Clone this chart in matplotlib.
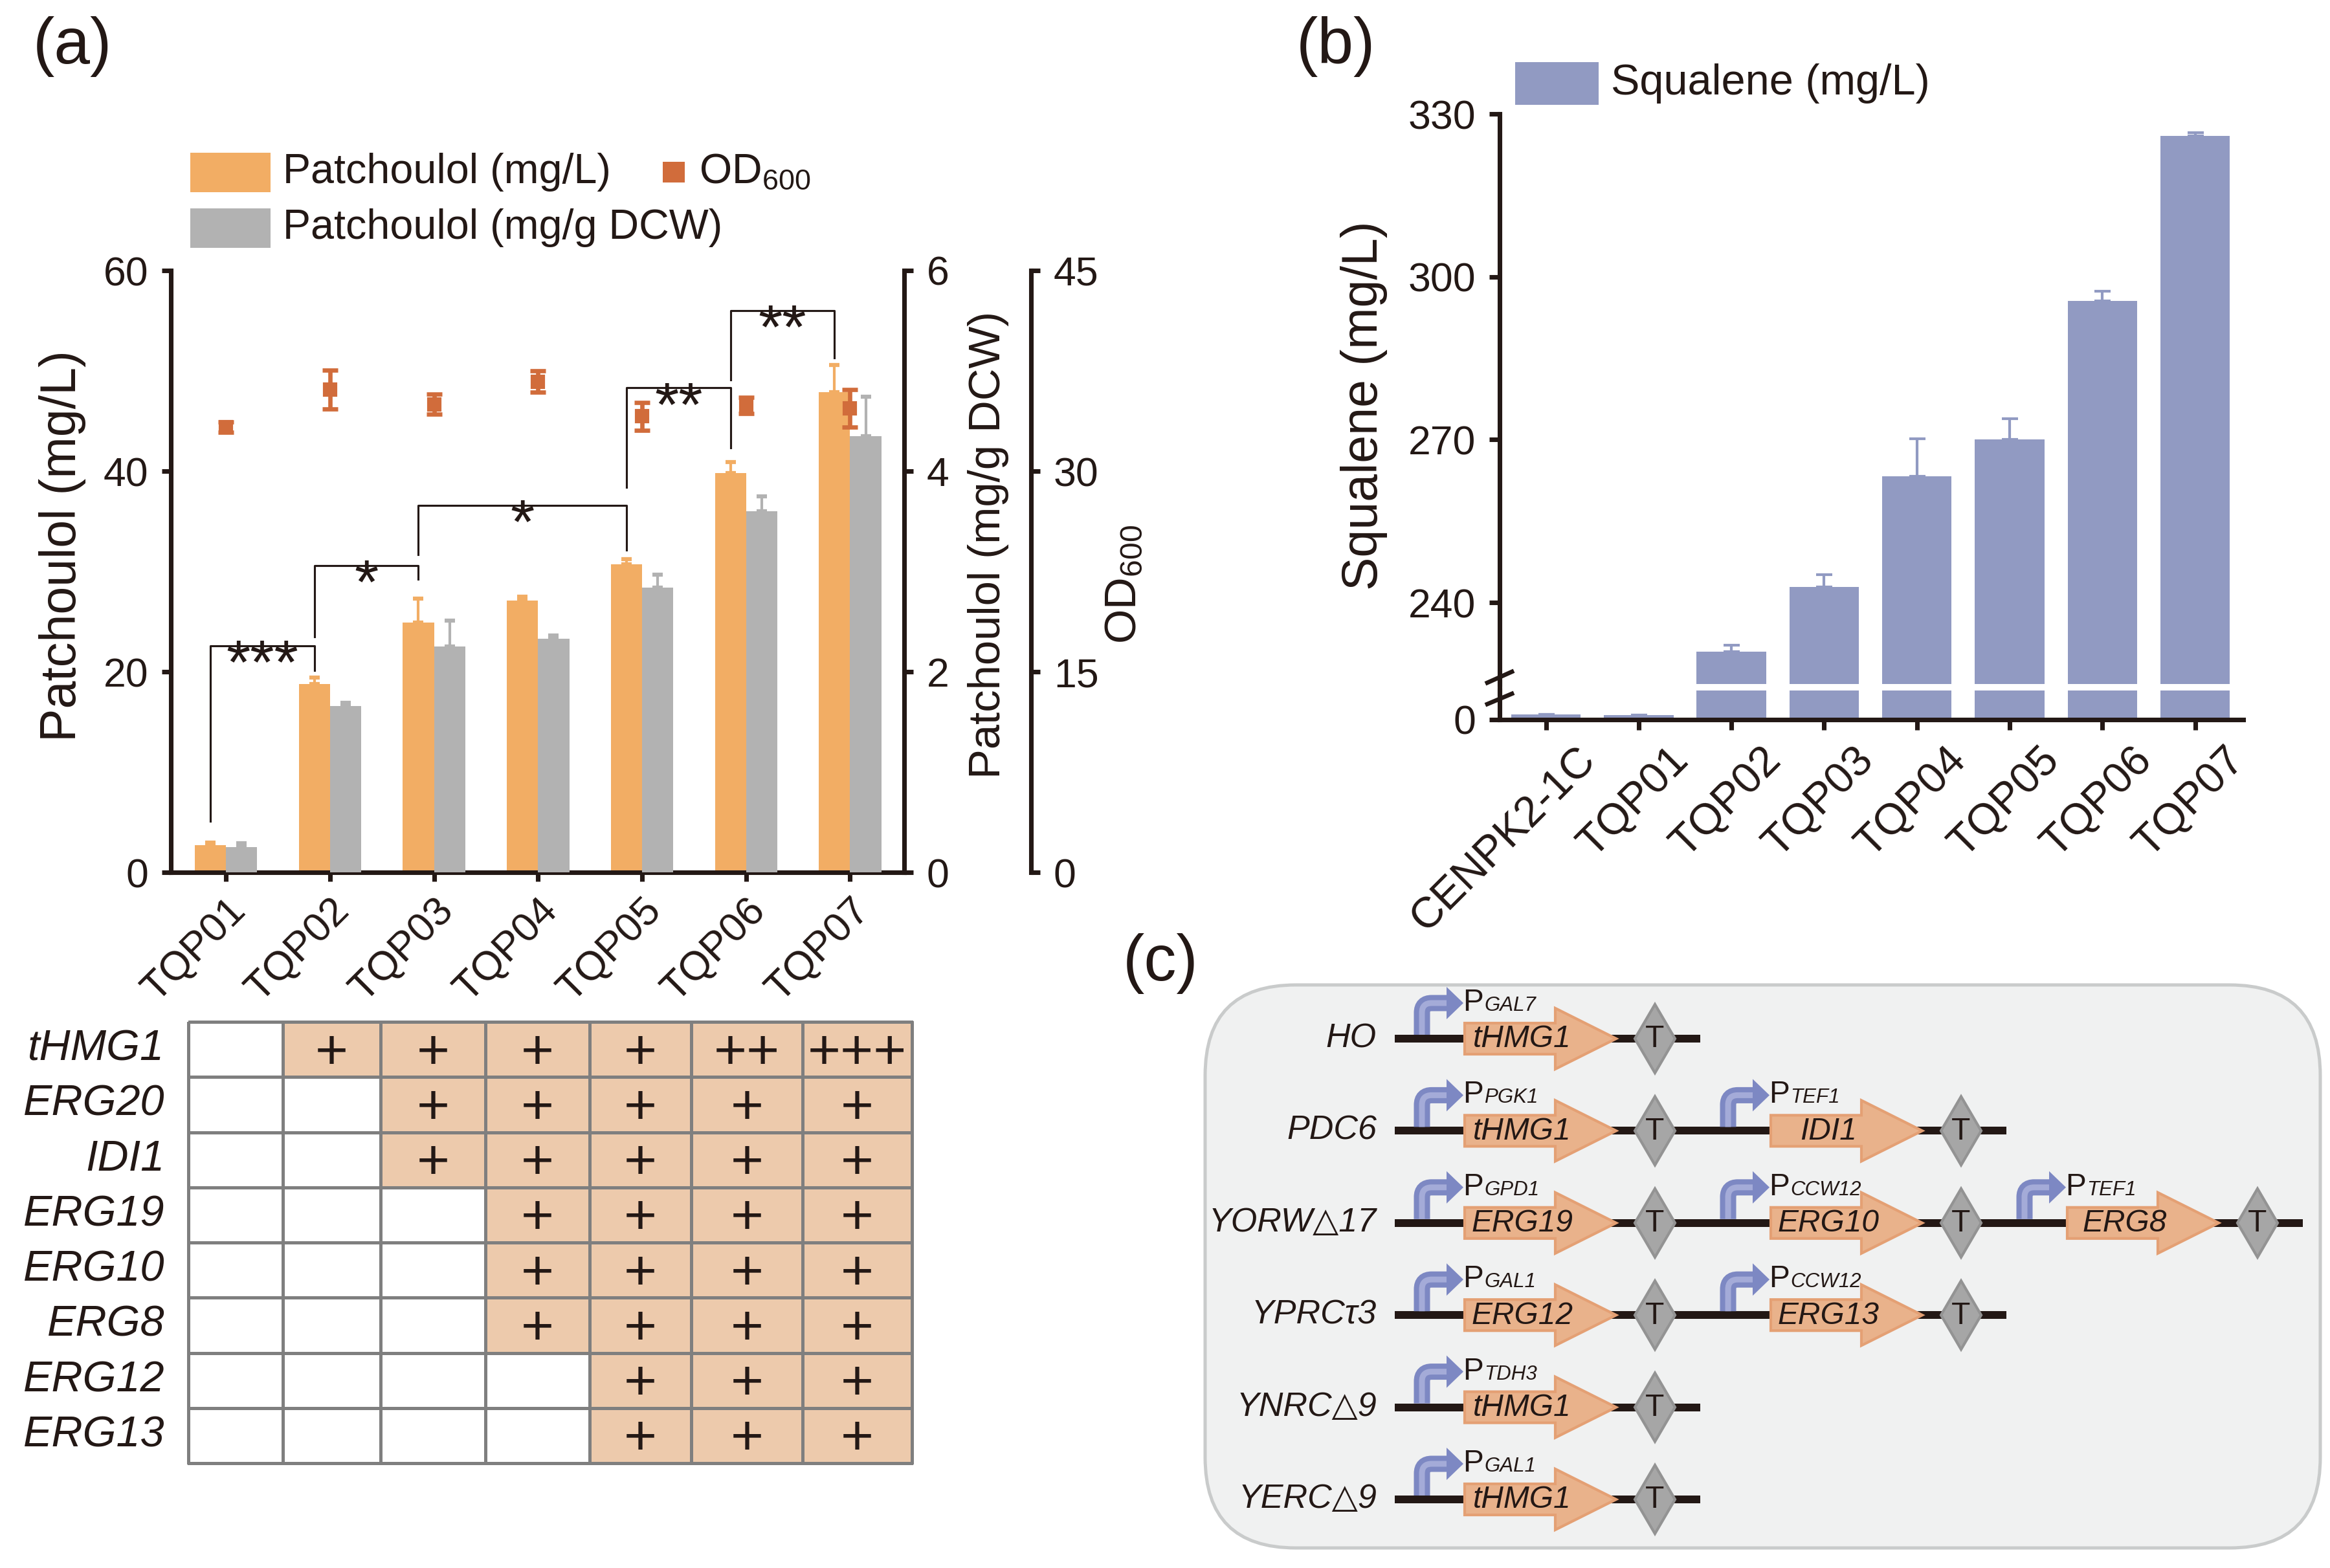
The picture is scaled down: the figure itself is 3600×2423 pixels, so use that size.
import numpy as np
import matplotlib
matplotlib.use('Agg')
import matplotlib.pyplot as plt
from matplotlib.patches import Rectangle, Polygon, FancyBboxPatch, PathPatch
from matplotlib.path import Path
from matplotlib.colors import ListedColormap
from matplotlib.transforms import ScaledTranslation

# ---------------- data, panel (a) ----------------
strains = ['TQP01', 'TQP02', 'TQP03', 'TQP04', 'TQP05', 'TQP06', 'TQP07']
patchoulol_mgL = [2.7, 18.8, 24.9, 27.1, 30.7, 39.8, 47.9]
patchoulol_mgL_err = [0.3, 0.6, 2.4, 0.4, 0.5, 1.1, 2.7]
patchoulol_mgDCW = [0.25, 1.66, 2.25, 2.33, 2.84, 3.60, 4.35]
patchoulol_mgDCW_err = [0.04, 0.03, 0.26, 0.03, 0.13, 0.15, 0.39]
od600 = [33.3, 36.1, 35.0, 36.7, 34.1, 34.9, 34.7]
od600_err = [0.4, 1.45, 0.75, 0.8, 1.05, 0.6, 1.4]

# significance brackets (heights on the mg/L axis)
sig_pairs = [(0, 1), (1, 2), (2, 4), (4, 5), (5, 6)]
sig_labels = ['***', '*', '*', '**', '**']
sig_top = [22.6, 30.6, 36.6, 48.3, 56.0]
sig_left_end = [5.1, 23.5, 31.7, 38.4, 49.1]
sig_right_end = [20.1, 29.2, 32.1, 42.3, 51.3]

# gene copies per strain (table under a)
genes = ['tHMG1', 'ERG20', 'IDI1', 'ERG19', 'ERG10', 'ERG8', 'ERG12', 'ERG13']
copies = [[0, 1, 1, 1, 1, 2, 3],
          [0, 0, 1, 1, 1, 1, 1],
          [0, 0, 1, 1, 1, 1, 1],
          [0, 0, 0, 1, 1, 1, 1],
          [0, 0, 0, 1, 1, 1, 1],
          [0, 0, 0, 1, 1, 1, 1],
          [0, 0, 0, 0, 1, 1, 1],
          [0, 0, 0, 0, 1, 1, 1]]

# ---------------- data, panel (b) ----------------
sq_strains = ['CENPK2-1C'] + strains
squalene = [3.6, 3.0, 230.9, 242.9, 263.3, 270.1, 295.5, 326.0]
squalene_err = [0, 0, 1.3, 2.2, 6.9, 3.8, 1.9, 0.5]

# ---------------- data, panel (c) ----------------
sites = ['HO', 'PDC6', 'YORW△17', 'YPRCτ3', 'YNRC△9', 'YERC△9']
promoters = [['GAL7'], ['PGK1', 'TEF1'], ['GPD1', 'CCW12', 'TEF1'],
             ['GAL1', 'CCW12'], ['TDH3'], ['GAL1']]
cassette_genes = [['tHMG1'], ['tHMG1', 'IDI1'], ['ERG19', 'ERG10', 'ERG8'],
                  ['ERG12', 'ERG13'], ['tHMG1'], ['tHMG1']]

# ---------------- style ----------------
plt.rcParams['font.family'] = ['Liberation Sans', 'DejaVu Sans']
plt.rcParams['mathtext.fontset'] = 'custom'
plt.rcParams['mathtext.rm'] = 'Liberation Sans'
plt.rcParams['mathtext.it'] = 'Liberation Sans:italic'
INK = '#231815'
plt.rcParams['text.color'] = INK
plt.rcParams['axes.edgecolor'] = INK
plt.rcParams['xtick.color'] = INK
plt.rcParams['ytick.color'] = INK

ORANGE = '#F2AD64'
GRAY = '#B2B2B2'
OD_C = '#D16C3B'
PURPLE = '#919AC2'
PEACH = '#EDCAAC'

W, H, DPI = 3600, 2423, 300
PX = 72 / DPI  # one pixel in points
SPINE = 1.7

fig = plt.figure(figsize=(W / DPI, H / DPI), dpi=DPI)


def box(x0, y0, x1, y1):
    return [x0 / W, 1 - y1 / H, (x1 - x0) / W, (y1 - y0) / H]


def shift_xlabels(a, dx_px):
    for lab in a.get_xticklabels():
        lab.set_transform(lab.get_transform() + ScaledTranslation(dx_px / DPI, 0, fig.dpi_scale_trans))


# ================= panel (a) =================
x = np.arange(len(strains))
bw = 0.3
ax = fig.add_axes(box(264, 418, 1397, 1348))
ax.bar(x - 0.15, patchoulol_mgL, bw, color=ORANGE, zorder=2,
       yerr=[np.zeros(len(x)), patchoulol_mgL_err],
       error_kw=dict(ecolor=ORANGE, elinewidth=1.0, capsize=2, capthick=1.5))
ax.set_xlim(-0.53, 6.52)
ax.set_ylim(0, 60)
ax.set_yticks([0, 20, 40, 60])
ax.set_xticks(x)
ax.set_xticklabels(strains, rotation=45, ha='right', va='top', rotation_mode='anchor', fontsize=16)
shift_xlabels(ax, 45)
for s in ['top', 'right']:
    ax.spines[s].set_visible(False)

ax2 = ax.twinx()
ax2.bar(x + 0.15, patchoulol_mgDCW, bw, color=GRAY, zorder=2,
        yerr=[np.zeros(len(x)), patchoulol_mgDCW_err],
        error_kw=dict(ecolor=GRAY, elinewidth=1.0, capsize=2, capthick=1.5))
ax2.set_ylim(0, 6)
ax2.set_yticks([0, 2, 4, 6])
for s in ['top', 'left', 'bottom']:
    ax2.spines[s].set_visible(False)

ax3 = ax.twinx()
ax3.spines['right'].set_position(('outward', (1593 - 1397) * PX))
ax3.errorbar(x, od600, yerr=od600_err, fmt='s', color=OD_C, ms=4.2,
             elinewidth=1.6, capsize=2.8, capthick=1.6)
ax3.set_ylim(0, 45)
ax3.set_yticks([0, 15, 30, 45])
for s in ['top', 'left', 'bottom']:
    ax3.spines[s].set_visible(False)

for a in (ax, ax2, ax3):
    for s in a.spines.values():
        s.set_linewidth(SPINE)
    a.tick_params(direction='out', length=14 * PX, width=SPINE, labelsize=15, pad=5)
ax.tick_params(axis='x', pad=3.5)

# significance brackets
for (i, j), lab, top, lb, rb in zip(sig_pairs, sig_labels, sig_top, sig_left_end, sig_right_end):
    xl, xr = i - 0.15, j - 0.15
    ax.plot([xl, xl, xr, xr], [lb, top, top, rb], color=INK, lw=0.75, zorder=3)
    ax.text((xl + xr) / 2, top - 3.7, lab, ha='center', va='baseline', fontsize=23, zorder=4)

# gene table under (a)
axt = fig.add_axes(box(291, 1579, 1409, 2261))
col_edges = [291, 437, 588, 750, 911, 1068, 1240, 1409]
row_edges = np.linspace(1579, 2261, len(genes) + 1)
filled = (np.array(copies) > 0).astype(int)
mesh = axt.pcolormesh(col_edges, row_edges, filled, cmap=ListedColormap(['white', PEACH]),
                      vmin=0, vmax=1, edgecolors='#7F7F7F', linewidth=0.8)
mesh.set_clip_on(False)
axt.set_xlim(291, 1409)
axt.set_ylim(2261, 1579)
axt.axis('off')
for r, g in enumerate(genes):
    cy = (row_edges[r] + row_edges[r + 1]) / 2
    axt.text(254, cy, g, ha='right', va='center', style='italic', fontsize=16)
    for c, n in enumerate(copies[r]):
        if n > 0:
            cx = (col_edges[c] + col_edges[c + 1]) / 2
            axt.text(cx, cy + 30, '+' * n, ha='center', va='baseline', fontsize=21)

# ================= panel (b) =================
xb = np.arange(len(sq_strains))
axb = fig.add_axes(box(2317, 176, 3466, 1057))
axl = fig.add_axes(box(2317, 1067, 3466, 1112))
for a in (axb, axl):
    a.bar(xb, squalene, 0.75, color=PURPLE,
          yerr=[np.zeros(len(xb)), squalene_err],
          error_kw=dict(ecolor=PURPLE, elinewidth=1.0, capsize=3, capthick=1.0))
    a.set_xlim(-0.5, 7.52)
    for s in a.spines.values():
        s.set_linewidth(SPINE)
    a.spines['top'].set_visible(False)
    a.spines['right'].set_visible(False)
    a.tick_params(direction='out', length=16 * PX, width=SPINE, labelsize=15, pad=5)
axb.set_ylim(225, 330)
axb.set_yticks([240, 270, 300, 330])
axb.spines['bottom'].set_visible(False)
axb.set_xticks([])
axl.set_ylim(0, 20)
axl.set_yticks([0])
axl.set_xticks(xb)
axl.set_xticklabels(sq_strains, rotation=45, ha='right', va='top', rotation_mode='anchor', fontsize=16)
axl.tick_params(axis='x', pad=3.5)
shift_xlabels(axl, 45)

# ================= overlay: labels, legends, panel (c) =================
ov = fig.add_axes([0, 0, 1, 1])
ov.set_xlim(0, W)
ov.set_ylim(H, 0)
ov.axis('off')

ov.text(51, 72, '(a)', fontsize=24, ha='left', va='center')
ov.text(2003, 72, '(b)', fontsize=24, ha='left', va='center')
ov.text(1735, 1489, '(c)', fontsize=24, ha='left', va='center')

# axis titles
ov.text(97, 844, 'Patchoulol (mg/L)', rotation=90, ha='center', va='center', fontsize=18.5)
ov.text(1527, 842, 'Patchoulol (mg/g DCW)', rotation=90, ha='center', va='center', fontsize=16.5)
ov.text(1737, 903, 'OD$_{600}$', rotation=90, ha='center', va='center', fontsize=16.5)
ov.text(2107, 627, 'Squalene (mg/L)', rotation=90, ha='center', va='center', fontsize=18.5)

# legend (a)
ov.add_patch(Rectangle((294, 236), 124, 61, color=ORANGE, lw=0))
ov.text(437, 266, 'Patchoulol (mg/L)', va='center', fontsize=15.5)
ov.add_patch(Rectangle((294, 322), 124, 61, color=GRAY, lw=0))
ov.text(437, 352, 'Patchoulol (mg/g DCW)', va='center', fontsize=15.5)
ov.add_patch(Rectangle((1024, 250), 34, 32, color=OD_C, lw=0))
ov.text(1080, 266, 'OD$_{600}$', va='center', fontsize=15.5)

# legend (b)
ov.add_patch(Rectangle((2341, 96), 129, 66, color=PURPLE, lw=0))
ov.text(2489, 129, 'Squalene (mg/L)', va='center', fontsize=16)

# axis break for (b)
ov.plot([2317, 2317], [1050, 1075], color=INK, lw=SPINE, solid_capstyle='butt')
ov.plot([2298, 2336], [1055, 1038], color=INK, lw=1.6)
ov.plot([2298, 2336], [1088, 1072], color=INK, lw=1.6)

# panel (c) frame
ov.add_patch(FancyBboxPatch((1862, 1522), 1723, 870, boxstyle='round,pad=0,rounding_size=140',
                            facecolor='#F0F1F1', edgecolor='#C9CBCB', lw=1.2, zorder=0))

row_y0, row_dy = 1605, 142.4
cassette_x0 = [2155, 2628, 3086]
for r, site in enumerate(sites):
    y = row_y0 + r * row_dy
    n = len(cassette_genes[r])
    ov.plot([2155, cassette_x0[n - 1] + 472], [y, y], color=INK, lw=12 * PX,
            solid_capstyle='butt', zorder=1)
    ov.text(2127, y, site, ha='right', va='center', style='italic', fontsize=12.5)
    for k in range(n):
        x0 = cassette_x0[k]
        # bent promoter arrow
        sx = x0 + 42
        verts = [(sx, y - 6), (sx, y - 40), (sx, y - 55), (sx + 15, y - 55), (x0 + 82, y - 55)]
        codes = [Path.MOVETO, Path.LINETO, Path.CURVE3, Path.CURVE3, Path.LINETO]
        ov.add_patch(PathPatch(Path(verts, codes), fill=False, edgecolor='#7D88C3',
                               lw=25 * PX, capstyle='butt', zorder=2))
        ov.add_patch(PathPatch(Path(verts, codes), fill=False, edgecolor='#A4ABD8',
                               lw=9 * PX, capstyle='butt', zorder=2))
        ov.add_patch(Polygon([(x0 + 80, y - 80), (x0 + 106, y - 55), (x0 + 80, y - 30)],
                             closed=True, facecolor='#7D88C3', edgecolor='none', zorder=2))
        ov.text(x0 + 105, y - 43, 'P', fontsize=11.5, va='baseline', ha='left', zorder=4)
        ov.text(x0 + 138, y - 43, promoters[r][k], fontsize=7.5, style='italic',
                va='baseline', ha='left', zorder=4)
        # gene arrow
        ov.add_patch(Polygon([(x0 + 108, y - 24), (x0 + 248, y - 24), (x0 + 248, y - 47),
                              (x0 + 342, y), (x0 + 248, y + 47), (x0 + 248, y + 24),
                              (x0 + 108, y + 24)], closed=True,
                             facecolor='#E9B28B', edgecolor='#E4A074', lw=1.0, zorder=3))
        ov.text(x0 + 197, y + 1, cassette_genes[r][k], ha='center', va='center',
                style='italic', fontsize=11.5, zorder=4)
        # terminator
        ov.add_patch(Polygon([(x0 + 402, y - 53), (x0 + 433, y), (x0 + 402, y + 53), (x0 + 371, y)],
                             closed=True, facecolor='#A6A6A6', edgecolor='#939393', lw=1.0, zorder=3))
        ov.text(x0 + 402, y + 1, 'T', ha='center', va='center', fontsize=11.5, zorder=4)

fig.savefig('out.png', dpi=DPI)
